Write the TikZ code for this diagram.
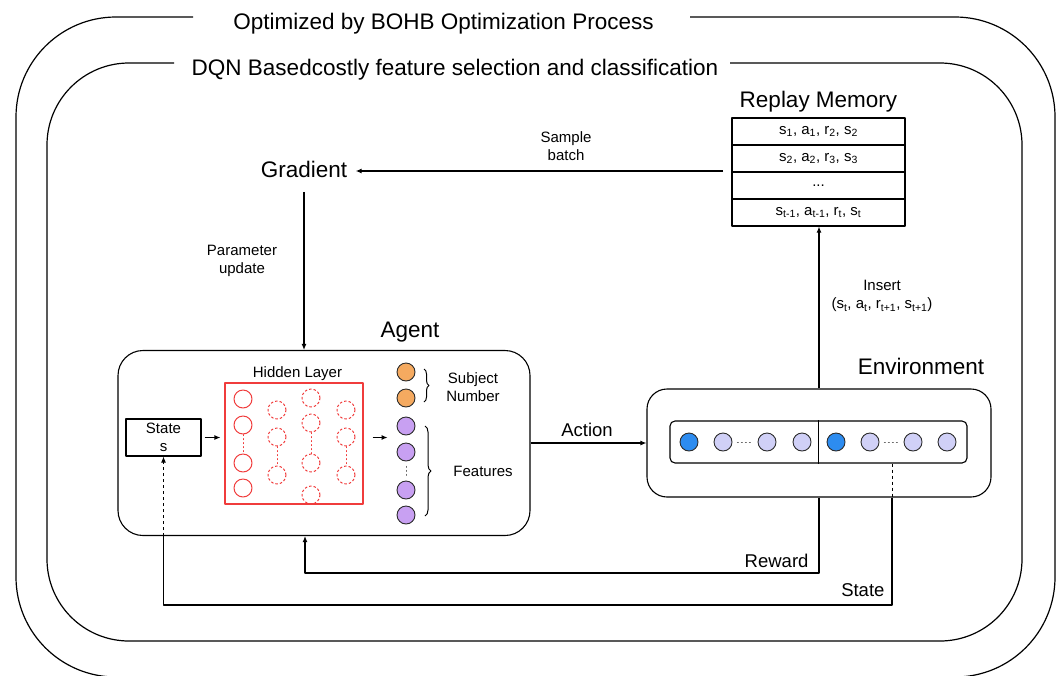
\documentclass[tikz,border=0pt]{standalone}
\usepackage{fontspec}
\setmainfont{Liberation Sans}
\usetikzlibrary{arrows.meta,decorations.pathreplacing,calc}
\definecolor{hred}{HTML}{F03C3C}
\definecolor{orangefill}{HTML}{F5AA60}
\definecolor{purplefill}{HTML}{C8A0F2}
\definecolor{lavfill}{HTML}{D0D0F7}
\definecolor{bluefill}{HTML}{2D8CF0}
\definecolor{edge}{HTML}{2B2B2B}

\begin{document}
\begin{tikzpicture}[x=1pt,y=-1pt,
  line width=1.1pt, line join=round,
  big/.style={font=\fontsize{22.5}{27}\selectfont, inner sep=0},
  flow/.style={font=\fontsize{18.5}{22}\selectfont, inner sep=0},
  small/.style={font=\fontsize{15}{18.5}\selectfont, align=center, inner sep=0},
  arr/.style={-{Latex[length=6pt,width=5pt]}},
  unit/.style={circle, draw=edge, line width=0.9pt, minimum size=18pt, inner sep=0},
  hsolid/.style={circle, draw=hred, line width=1pt, minimum size=18pt, inner sep=0},
  hdash/.style={hsolid, dash pattern=on 2.5pt off 2pt},
  memrow/.style={draw, line width=1.1pt, minimum width=173pt, minimum height=27pt,
    inner sep=0, font=\fontsize{15}{18}\selectfont},
  dotline/.style={line width=1pt, dash pattern=on 1pt off 3pt, line cap=round},
]
\useasboundingbox (0,0) rectangle (1062,675);

% nested frames with gaps for their titles
\draw[line width=1.2pt, rounded corners=100pt]
  (193,17) -- (16,17) -- (16,677) -- (1055,677) -- (1055,17) -- (690,17);
\draw[line width=1.2pt, rounded corners=82pt]
  (174,63) -- (47,63) -- (47,641) -- (1022,641) -- (1022,63) -- (730,63);
\node[big, anchor=base] (outertitle) at (443.5,29) {Optimized by BOHB Optimization Process};
\node[big, anchor=base] (innertitle) at (455,75) {DQN Basedcostly feature selection and classification};

% replay memory
\node[big, anchor=base] (rmtitle) at (818.5,107) {Replay Memory};
\node[memrow] (rm1) at (818.5,131.5) {s\textsubscript{1}, a\textsubscript{1}, r\textsubscript{2}, s\textsubscript{2}};
\node[memrow] (rm2) at (818.5,158.5) {s\textsubscript{2}, a\textsubscript{2}, r\textsubscript{3}, s\textsubscript{3}};
\node[memrow] (rm3) at (818.5,185.5) {...};
\node[memrow] (rm4) at (818.5,212.5) {s\textsubscript{t-1}, a\textsubscript{t-1}, r\textsubscript{t}, s\textsubscript{t}};

% gradient
\node[big, anchor=base] (grad) at (304,177) {Gradient};
\coordinate (sbstart) at (723,171);
\draw[arr] (sbstart) -- ([xshift=8pt]sbstart -| grad.east);
\node[small] (sblabel) at (566,146) {Sample\\batch};
\node[small] (pulabel) at (242,261) {Parameter\\update};

% agent
\node[big, anchor=base] (agentlbl) at (410,337) {Agent};
\node[draw, rounded corners=25pt, minimum width=412pt, minimum height=185pt, inner sep=0]
  (agent) at (324,443) {};
\draw[arr] ([yshift=-14pt]grad.south) -- (grad.south |- agent.north);

\node[small] (hllabel) at (297.5,374) {Hidden Layer};
\node[draw=hred, line width=1.1pt, minimum width=138pt, minimum height=121pt, inner sep=0]
  (hl) at (294,443.5) {};
\node[draw, line width=1.1pt, minimum width=75pt, minimum height=37pt, small]
  (st) at (163.5,437.5) {State\\s};

% hidden units
\foreach \y [count=\i] in {399,425,463,488}
  \node[hsolid] (ha\i) at (243,\y) {};
\foreach \y [count=\i] in {410,437,475}
  \node[hdash] (hb\i) at (277,\y) {};
\foreach \y [count=\i] in {398,423,463,495}
  \node[hdash] (hc\i) at (311,\y) {};
\foreach \y [count=\i] in {410,437,475}
  \node[hdash] (hd\i) at (346,\y) {};
\draw[hred, dotline] (ha2.south) -- (ha3.north);
\draw[hred, dotline] (hb2.south) -- (hb3.north);
\draw[hred, dotline] (hc2.south) -- (hc3.north);
\draw[hred, dotline] (hd2.south) -- (hd3.north);

% output units
\node[unit, fill=orangefill] (o1) at (406,372) {};
\node[unit, fill=orangefill] (o2) at (406,398) {};
\foreach \y [count=\i] in {426,452,490,515}
  \node[unit, fill=purplefill] (p\i) at (406,\y) {};
\draw[edge!70, dotline] ([yshift=-5pt]p2.south) -- ([yshift=5pt]p3.north);

\draw[arr] ([xshift=3pt]st.east) -- ([xshift=-4pt]st.east -| hl.west);
\draw[arr] ([xshift=9pt]hl.east |- st.east) -- ([xshift=-9pt]p1.west |- st.east);

\draw[line width=1pt, decorate, decoration={brace, amplitude=5pt}]
  (424,369) -- (424,402);
\draw[line width=1pt, decorate, decoration={brace, amplitude=6pt}]
  (425,426) -- (425,516);
\node[small] (subjlbl) at (473,387) {Subject\\Number};
\node[small] (featlbl) at (483,471.5) {Features};

% environment
\node[big, anchor=base] (envlbl) at (921,374) {Environment};
\node[draw, rounded corners=20pt, minimum width=344pt, minimum height=108pt, inner sep=0]
  (env) at (819,443) {};
\node[draw, rounded corners=5pt, minimum width=297pt, minimum height=42pt, inner sep=0]
  (strip) at (818.5,442) {};
\draw (strip.north) -- (strip.south);
\foreach \x [count=\i] in {689,836}
  \node[unit, fill=bluefill] (eb\i) at (\x,442) {};
\foreach \x [count=\i] in {723,767,802,870,913,947}
  \node[unit, fill=lavfill] (el\i) at (\x,442) {};
\draw[edge!70, dotline] ([xshift=5pt]el1.east) -- ([xshift=-5pt]el2.west);
\draw[edge!70, dotline] ([xshift=5pt]el4.east) -- ([xshift=-5pt]el5.west);

% action
\draw[arr] (agent.east |- env.west) -- (env.west);
\node[flow, anchor=base] (actlbl) at (587,436) {Action};

% insert into memory
\draw[arr] (env.north) -- (env.north |- rm4.south);
\node[small] (inslbl) at (882,296) {Insert\\(s\textsubscript{t}, a\textsubscript{t}, r\textsubscript{t+1}, s\textsubscript{t+1})};

% reward back to the agent
\coordinate (rwd) at (305,573);
\draw[arr] (env.south) |- (rwd) -- (rwd |- agent.south);
\node[flow, anchor=base east] (rwdlbl) at (809,567) {Reward};

% next state back to the state box
\coordinate (stx) at (892,605);
\draw[dashed, line width=1pt] (strip.south -| stx) -- (env.south -| stx);
\draw (env.south -| stx) -- (stx) -| (agent.south -| st.south);
\draw[arr, dashed, line width=1pt] (agent.south -| st.south) -- (st.south);
\node[flow, anchor=base east] (stlbl) at (885,596) {State};
\end{tikzpicture}
\end{document}
